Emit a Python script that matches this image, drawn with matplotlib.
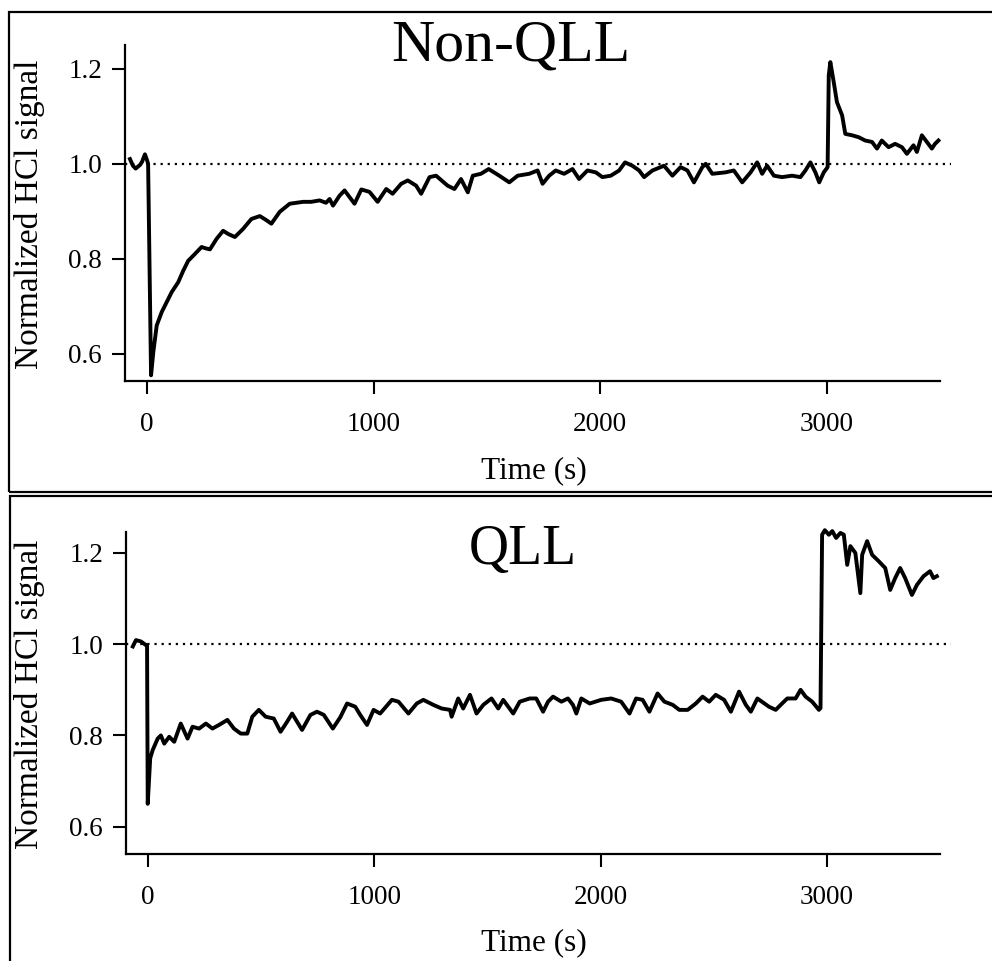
import matplotlib
matplotlib.use("Agg")
import matplotlib.pyplot as plt
from matplotlib.patches import Rectangle

plt.rcParams['font.family'] = ['Liberation Serif', 'DejaVu Serif']

# ---- data: Non-QLL ----
t_nonqll = [-75, -62, -50, -40, -30, -22, -9, 0, 5, 18, 28, 43, 65, 87, 109, 138, 160, 182, 211, 241,
            260, 278, 307, 336, 360, 388, 424, 461, 498, 525, 549, 586, 630, 689, 725, 762, 790, 806,
            821, 850, 872, 916, 946, 982, 1018, 1056, 1084, 1122, 1151, 1188, 1210, 1247, 1276, 1327,
            1357, 1386, 1416, 1438, 1474, 1508, 1555, 1599, 1636, 1687, 1724, 1746, 1775, 1804, 1841,
            1878, 1907, 1944, 1981, 2010, 2047, 2084, 2110, 2142, 2172, 2194, 2231, 2282, 2319, 2355,
            2385, 2414, 2451, 2466, 2495, 2553, 2590, 2627, 2664, 2693, 2715, 2737, 2767, 2803, 2847,
            2884, 2906, 2928, 2950, 2967, 2987, 3004, 3009, 3016, 3031, 3045, 3068, 3082, 3112, 3141,
            3170, 3200, 3222, 3243, 3273, 3302, 3332, 3354, 3383, 3398, 3420, 3442, 3464, 3478, 3493]
hcl_nonqll = [1.010, 0.996, 0.990, 0.994, 0.998, 1.004, 1.020, 1.008, 1.000, 0.555, 0.604, 0.660, 0.688,
              0.709, 0.730, 0.751, 0.775, 0.796, 0.810, 0.825, 0.822, 0.820, 0.842, 0.859, 0.852, 0.846,
              0.863, 0.884, 0.890, 0.882, 0.874, 0.899, 0.916, 0.920, 0.920, 0.923, 0.918, 0.926, 0.912,
              0.933, 0.944, 0.916, 0.946, 0.941, 0.920, 0.947, 0.937, 0.958, 0.965, 0.954, 0.937, 0.972,
              0.975, 0.954, 0.947, 0.968, 0.940, 0.975, 0.979, 0.989, 0.975, 0.961, 0.975, 0.979, 0.986,
              0.958, 0.975, 0.986, 0.979, 0.989, 0.968, 0.986, 0.982, 0.972, 0.975, 0.986, 1.003, 0.996,
              0.986, 0.972, 0.986, 0.996, 0.975, 0.993, 0.986, 0.961, 0.993, 1.000, 0.979, 0.982, 0.986,
              0.961, 0.982, 1.003, 0.979, 0.996, 0.975, 0.972, 0.975, 0.972, 0.986, 1.003, 0.982, 0.961,
              0.982, 0.993, 1.186, 1.214, 1.172, 1.130, 1.102, 1.063, 1.060, 1.056, 1.049, 1.046, 1.032,
              1.049, 1.035, 1.042, 1.035, 1.021, 1.039, 1.025, 1.060, 1.046, 1.032, 1.042, 1.049]

# ---- data: QLL ----
t_qll = [-67, -53, -31, -9, -4, -1, 10, 21, 43, 57, 72, 94, 116, 145, 175, 197, 226, 256, 285, 314, 351,
         380, 410, 439, 461, 490, 520, 556, 586, 615, 637, 659, 681, 718, 747, 777, 817, 850, 880, 916,
         938, 968, 997, 1026, 1078, 1107, 1151, 1188, 1217, 1261, 1298, 1335, 1342, 1371, 1393, 1423,
         1452, 1482, 1518, 1548, 1570, 1614, 1643, 1687, 1716, 1746, 1768, 1790, 1827, 1856, 1878, 1893,
         1915, 1952, 2003, 2047, 2091, 2128, 2157, 2186, 2216, 2252, 2282, 2319, 2348, 2385, 2421, 2451,
         2480, 2509, 2546, 2576, 2612, 2642, 2664, 2693, 2744, 2774, 2796, 2825, 2862, 2884, 2906, 2935,
         2965, 2972, 2979, 2991, 3009, 3024, 3041, 3060, 3075, 3090, 3104, 3126, 3148, 3156, 3178, 3200,
         3229, 3258, 3280, 3302, 3324, 3346, 3376, 3398, 3427, 3456, 3471, 3486]
hcl_qll = [0.995, 1.009, 1.006, 0.998, 0.998, 0.650, 0.750, 0.768, 0.793, 0.800, 0.782, 0.797, 0.786,
           0.826, 0.793, 0.819, 0.815, 0.826, 0.815, 0.823, 0.834, 0.815, 0.804, 0.804, 0.841, 0.856,
           0.841, 0.837, 0.808, 0.830, 0.848, 0.830, 0.812, 0.845, 0.852, 0.845, 0.815, 0.840, 0.870,
           0.863, 0.845, 0.823, 0.856, 0.848, 0.878, 0.874, 0.848, 0.870, 0.878, 0.867, 0.859, 0.856,
           0.841, 0.881, 0.859, 0.889, 0.848, 0.867, 0.881, 0.859, 0.878, 0.848, 0.874, 0.881, 0.881,
           0.852, 0.874, 0.885, 0.874, 0.881, 0.867, 0.848, 0.881, 0.870, 0.878, 0.881, 0.874, 0.848,
           0.881, 0.878, 0.852, 0.892, 0.874, 0.867, 0.856, 0.856, 0.870, 0.885, 0.874, 0.889, 0.878,
           0.852, 0.896, 0.867, 0.852, 0.881, 0.863, 0.856, 0.867, 0.881, 0.881, 0.900, 0.885, 0.874,
           0.856, 0.860, 1.240, 1.250, 1.240, 1.248, 1.233, 1.244, 1.240, 1.174, 1.215, 1.200, 1.112,
           1.196, 1.226, 1.196, 1.182, 1.167, 1.119, 1.145, 1.167, 1.145, 1.108, 1.130, 1.149, 1.160,
           1.145, 1.149]

x_ticks = [0, 1000, 2000, 3000]
y_ticks = [0.6, 0.8, 1.0, 1.2]
y_ticklabels = ['0.6', '0.8', '1.0', '1.2']
titles = ['Non-QLL', 'QLL']
xlabel = 'Time (s)'
ylabel = 'Normalized HCl signal'

W, H = 992, 961
fig = plt.figure(figsize=(W / 100, H / 100), dpi=100)


def fx(px):
    return px / W


def fy(py):
    return 1 - py / H


panels = [
    dict(t=t_nonqll, v=hcl_nonqll, box=(125, 45, 940, 381), ylim=(0.543, 1.25),
         title=titles[0], tpos=(511, 46), tsize=43, xl_y=-0.225),
    dict(t=t_qll, v=hcl_qll, box=(126, 532, 940, 854), ylim=(0.54, 1.246),
         title=titles[1], tpos=(523, 550), tsize=40, xl_y=-0.23),
]

# panel frames
for (x0, y0, x1, y1) in [(9, 12, 1005, 492), (10, 496, 1005, 975)]:
    fig.patches.append(Rectangle((fx(x0), fy(y1)), fx(x1 - x0), (y1 - y0) / H,
                                 transform=fig.transFigure, fill=False,
                                 edgecolor='black', linewidth=1.6, zorder=0))

for p in panels:
    x0, y0, x1, y1 = p['box']
    ax = fig.add_axes([fx(x0), fy(y1), (x1 - x0) / W, (y1 - y0) / H])
    ax.set_facecolor('none')
    ax.plot(p['t'], p['v'], color='black', lw=2.8, clip_on=False, solid_joinstyle='round')
    ax.plot([-97, 3550], [1.0, 1.0], color='black', lw=1.6, linestyle=(0, (1, 2.2)), clip_on=False)
    ax.set_xlim(-97, 3500)
    ax.set_ylim(*p['ylim'])
    for s in ['top', 'right']:
        ax.spines[s].set_visible(False)
    for s in ['left', 'bottom']:
        ax.spines[s].set_linewidth(1.6)
    ax.set_xticks(x_ticks)
    ax.set_xticklabels([str(v) for v in x_ticks])
    ax.set_yticks(y_ticks)
    ax.set_yticklabels(y_ticklabels)
    ax.tick_params(axis='x', direction='out', length=9.5, width=1.5, pad=13, labelsize=19.5)
    ax.tick_params(axis='y', direction='out', length=9.5, width=1.5, pad=7, labelsize=19.5)
    ax.set_xlabel(xlabel, fontsize=22.5)
    ax.xaxis.set_label_coords((534 - x0) / (x1 - x0), p['xl_y'])
    ax.set_ylabel(ylabel, fontsize=24)
    ax.yaxis.set_label_coords((45 - x0) / (x1 - x0), 0.495)
    fig.text(fx(p['tpos'][0]), fy(p['tpos'][1]), p['title'], fontsize=p['tsize'],
             ha='center', va='center')

fig.savefig('out.png', dpi=100)
